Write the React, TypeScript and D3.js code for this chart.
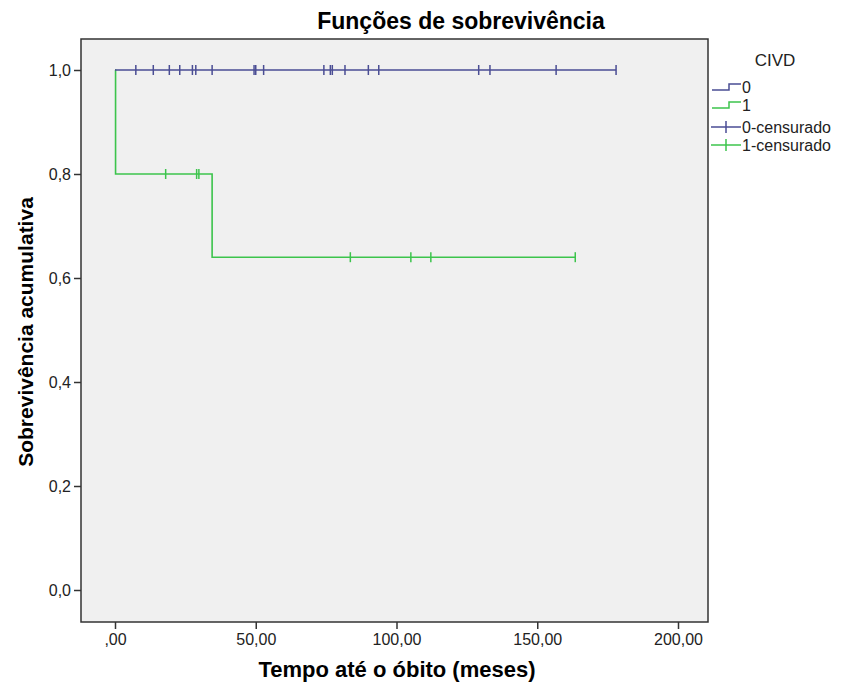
import React, { useEffect, useRef } from 'react';
import * as d3 from 'd3';

// Kaplan-Meier steps (time in months, cumulative survival)
const group0Steps = [{ t: 0, s: 1.0 }];
const group0End = 178;
const group0Censored = [7.4, 13.6, 19.3, 23.0, 27.5, 28.7, 34.5, 49.4, 50.0, 52.8, 74.2, 76.5, 77.2, 81.7, 90.0, 93.7, 129.2, 133.2, 156.7, 178];

const group1Steps = [{ t: 0, s: 1.0 }, { t: 0.2, s: 0.8 }, { t: 34.5, s: 0.64 }];
const group1End = 163.5;
const group1Censored = [18.0, 29.0, 29.8, 83.6, 105.1, 112.2, 163.5];

const xTicks = [0, 50, 100, 150, 200];
const yTicks = [0, 0.2, 0.4, 0.6, 0.8, 1.0];
const legendItems = ['0', '1', '0-censurado', '1-censurado'];

const BLUE = '#4a4d94';
const GREEN = '#3cc44c';
const FONT = '"Liberation Sans", Arial, sans-serif';

const fmtX = (v: number) => (v === 0 ? ',00' : d3.format('.2f')(v).replace('.', ','));
const fmtY = (v: number) => d3.format('.1f')(v).replace('.', ',');

const App = () => {
  const ref = useRef<SVGSVGElement>(null);

  useEffect(() => {
    const svg = d3.select(ref.current);
    svg.selectAll('*').remove();

    const box = { left: 81, right: 708, top: 39, bottom: 622 };
    const x = d3.scaleLinear().domain([0, 200]).range([115, 678]);
    const y = d3.scaleLinear().domain([0, 1]).range([590, 70]);

    svg.append('rect')
      .attr('x', box.left).attr('y', box.top)
      .attr('width', box.right - box.left).attr('height', box.bottom - box.top)
      .attr('fill', '#f0f0f0').attr('stroke', '#333').attr('stroke-width', 1.5);

    // Title
    svg.append('text')
      .attr('x', 461).attr('y', 29)
      .attr('text-anchor', 'middle')
      .style('font', `bold 23px ${FONT}`)
      .text('Funções de sobrevivência');

    // X axis
    const xa = svg.append('g').attr('transform', `translate(0,${box.bottom})`)
      .call(d3.axisBottom(x).tickValues(xTicks).tickFormat(fmtX as any).tickSize(7).tickPadding(5));
    xa.select('.domain').remove();
    xa.selectAll('line').attr('stroke', '#333').attr('stroke-width', 1.5);
    xa.selectAll('text').style('font', `16px ${FONT}`).attr('fill', '#222');

    // Y axis
    const ya = svg.append('g').attr('transform', `translate(${box.left},0)`)
      .call(d3.axisLeft(y).tickValues(yTicks).tickFormat(fmtY as any).tickSize(7).tickPadding(3));
    ya.select('.domain').remove();
    ya.selectAll('line').attr('stroke', '#333').attr('stroke-width', 1.5);
    ya.selectAll('text').style('font', `16px ${FONT}`).attr('fill', '#222');

    svg.append('text')
      .attr('x', 397).attr('y', 677)
      .attr('text-anchor', 'middle')
      .style('font', `bold 22px ${FONT}`)
      .text('Tempo até o óbito (meses)');

    svg.append('text')
      .attr('transform', 'translate(33,332) rotate(-90)')
      .attr('text-anchor', 'middle')
      .style('font', `bold 21px ${FONT}`)
      .text('Sobrevivência acumulativa');

    const line = d3.line<{ t: number; s: number }>()
      .x(d => x(d.t)).y(d => y(d.s))
      .curve(d3.curveStepAfter);

    const drawGroup = (steps: { t: number; s: number }[], end: number, censored: number[], color: string) => {
      const pts = [...steps, { t: end, s: steps[steps.length - 1].s }];
      svg.append('path')
        .attr('d', line(pts))
        .attr('fill', 'none').attr('stroke', color).attr('stroke-width', 1.6);
      const survAt = (t: number) => {
        let s = 1;
        steps.forEach(d => { if (d.t <= t) s = d.s; });
        return s;
      };
      svg.append('g').selectAll('line')
        .data(censored)
        .enter().append('line')
        .attr('x1', d => x(d)).attr('x2', d => x(d))
        .attr('y1', d => y(survAt(d)) - 5).attr('y2', d => y(survAt(d)) + 5)
        .attr('stroke', color).attr('stroke-width', 1.5);
    };

    drawGroup(group1Steps, group1End, group1Censored, GREEN);
    drawGroup(group0Steps, group0End, group0Censored, BLUE);

    // Legend
    const lg = svg.append('g');
    lg.append('text')
      .attr('x', 775).attr('y', 66)
      .attr('text-anchor', 'middle')
      .style('font', `17px ${FONT}`).attr('fill', '#222')
      .text('CIVD');
    const rowY = [90, 108, 127, 145];
    legendItems.forEach((label, i) => {
      const color = i % 2 === 0 ? BLUE : GREEN;
      const cy = rowY[i];
      if (i < 2) {
        lg.append('path')
          .attr('d', `M712,${cy}H729V${cy - 6}H741`)
          .attr('fill', 'none').attr('stroke', color).attr('stroke-width', 1.5);
      } else {
        lg.append('line').attr('x1', 711).attr('x2', 741).attr('y1', cy).attr('y2', cy)
          .attr('stroke', color).attr('stroke-width', 1.5);
        lg.append('line').attr('x1', 726).attr('x2', 726).attr('y1', cy - 6).attr('y2', cy + 6)
          .attr('stroke', color).attr('stroke-width', 1.5);
      }
      lg.append('text')
        .attr('x', 742).attr('y', i < 2 ? cy + 3 : cy + 6)
        .style('font', `16px ${FONT}`).attr('fill', '#222')
        .text(label);
    });
  }, []);

  return (
    <svg ref={ref} width={845} height={688}
      style={{ position: 'absolute', left: 0, top: 0, background: '#fff' }} />
  );
};

export default App;
